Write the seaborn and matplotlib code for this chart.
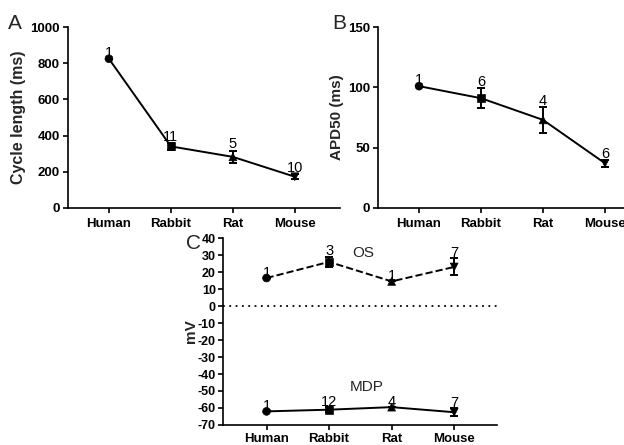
import numpy as np
import pandas as pd
import seaborn as sns
import matplotlib.pyplot as plt

species = ["Human", "Rabbit", "Rat", "Mouse"]
marker_map = {"Human": "o", "Rabbit": "s", "Rat": "^", "Mouse": "v"}

# panel A - cycle length (ms)
cl_mean = [825, 340, 282, 172]
cl_err = [0, 18, 35, 15]
cl_n = ["1", "11", "5", "10"]

# panel B - APD50 (ms)
apd_mean = [101, 91, 73, 37]
apd_err = [0, 8.5, 11, 3]
apd_n = ["1", "6", "4", "6"]

# panel C - OS and MDP (mV)
os_mean = [16.5, 26, 14.5, 23]
os_err = [0, 3, 0, 5]
os_n = ["1", "3", "1", "7"]
mdp_mean = [-62, -61, -59.5, -62.5]
mdp_err = [0, 1.5, 0, 2.5]
mdp_n = ["1", "12", "4", "7"]

sns.set_style("ticks")
plt.rcParams['font.family'] = ['Liberation Sans', 'DejaVu Sans']
plt.rcParams['axes.unicode_minus'] = False

fig = plt.figure(figsize=(6.24, 4.45), dpi=100)
axA = fig.add_axes([0.109, 0.533, 0.436, 0.406])
axB = fig.add_axes([0.606, 0.533, 0.436, 0.406])
axC = fig.add_axes([0.357, 0.045, 0.439, 0.420])


def draw_series(ax, mean, err, nlab, dashed=False, off=0.0):
    df = pd.DataFrame({"species": species, "val": mean, "err": err, "n": nlab})
    df["x"] = np.arange(len(species))
    sns.lineplot(data=df, x="x", y="val", ax=ax, color="black", lw=1.4,
                 linestyle="--" if dashed else "-", legend=False)
    sns.scatterplot(data=df, x="x", y="val", style="species", markers=marker_map,
                    color="black", s=32, edgecolor="black", ax=ax, legend=False, zorder=3)
    ax.errorbar(df["x"], df["val"], yerr=df["err"], fmt="none", ecolor="black",
                elinewidth=1.4, capsize=3, capthick=1.4, zorder=2)
    for _, r in df.iterrows():
        ax.text(r["x"], r["val"] + r["err"] + off, r["n"], ha="center", va="bottom",
                fontsize=10.5, color="black")


def style_axis(ax, ylabel, xsize=9.5, ysize=9.5, xpad=4, ypad=2.5):
    sns.despine(ax=ax)
    for s in ["left", "bottom"]:
        ax.spines[s].set_linewidth(1.2)
        ax.spines[s].set_color("black")
    ax.tick_params(width=1.2, length=3.5, colors="black")
    ax.tick_params(axis="x", labelsize=xsize, pad=xpad)
    ax.tick_params(axis="y", labelsize=ysize, pad=ypad)
    ax.set_xticks(range(len(species)))
    ax.set_xticklabels(species, fontweight="bold")
    for t in ax.get_yticklabels():
        t.set_fontweight("bold")
    ax.set_xlabel("")
    ax.set_ylabel(ylabel, fontsize=11, fontweight="bold", labelpad=3)


draw_series(axA, cl_mean, cl_err, cl_n, off=-5)
axA.set_xlim(-0.66, 3.73)
axA.set_ylim(0, 1000)
axA.set_yticks([0, 200, 400, 600, 800, 1000])
style_axis(axA, "Cycle length (ms)")
axA.yaxis.label.set_fontsize(11.5)
fig.text(0.013, 0.935, "A", fontsize=15)

draw_series(axB, apd_mean, apd_err, apd_n, off=-1)
axB.set_xlim(-0.66, 3.73)
axB.set_ylim(0, 150)
axB.set_yticks([0, 50, 100, 150])
style_axis(axB, "APD50 (ms)")
fig.text(0.533, 0.935, "B", fontsize=15)

axC.axhline(0, color="black", lw=1.3, ls=(0, (1, 2.5)), xmax=1.0)
draw_series(axC, os_mean, os_err, os_n, dashed=True, off=-1)
draw_series(axC, mdp_mean, mdp_err, mdp_n, off=-1)
axC.text(1.55, 31, "OS", fontsize=11, ha="center", va="center")
axC.text(1.6, -47.5, "MDP", fontsize=11, ha="center", va="center")
axC.set_xlim(-0.7, 3.68)
axC.set_ylim(-70, 40)
axC.set_yticks(range(-70, 41, 10))
style_axis(axC, "mV", xsize=9.5, ysize=9, xpad=2, ypad=1.5)
axC.yaxis.labelpad = 0
fig.text(0.298, 0.44, "C", fontsize=15)

fig.savefig("out.png", dpi=100)
